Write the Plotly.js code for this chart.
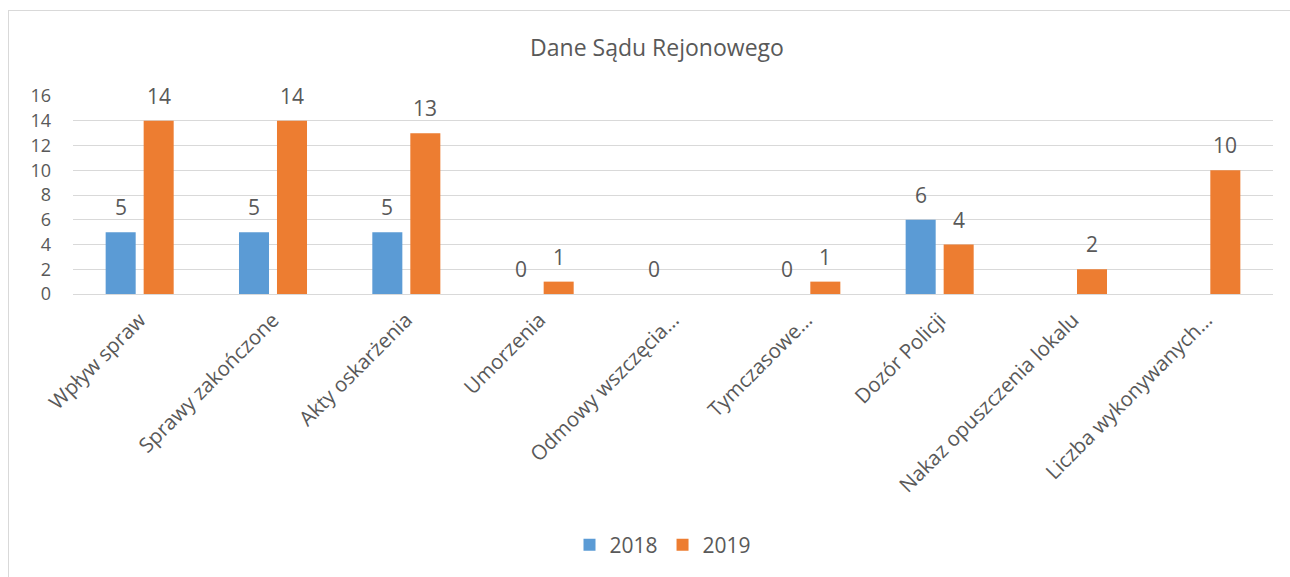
<!DOCTYPE html>
<html>
<head>
<meta charset="utf-8">
<script src="https://cdn.plot.ly/plotly-3.0.1.min.js"></script>
<style>
  html, body { margin: 0; padding: 0; background: #ffffff; }
  #frame { position: absolute; left: 8px; top: 10px; width: 1400px; height: 700px; border-left: 1.5px solid #d9d9d9; border-top: 1.5px solid #d9d9d9; pointer-events: none; }
  #chart { position: absolute; left: 0; top: 0; width: 1290px; height: 577px; }
</style>
</head>
<body>
<div id="chart"></div>
<div id="frame"></div>
<script>
const categories = [
  "Wpływ spraw",
  "Sprawy zakończone",
  "Akty oskarżenia",
  "Umorzenia",
  "Odmowy wszczęcia…",
  "Tymczasowe…",
  "Dozór Policji",
  "Nakaz opuszczenia lokalu",
  "Liczba wykonywanych…"
];
const values2018 = [5, 5, 5, 0, 0, 0, 6, null, null];
const values2019 = [14, 14, 13, 1, null, 1, 4, 2, 10];
const seriesNames = ["2018", "2019"];
const colors = ["#5B9BD5", "#ED7D31"];
const yTicks = [0, 2, 4, 6, 8, 10, 12, 14, 16];

const textColor = "#595959";
const fontFam = "'Open Sans', 'Noto Sans', sans-serif";

const traces = [values2018, values2019].map((vals, i) => ({
  type: "bar",
  name: seriesNames[i],
  x: categories,
  y: vals,
  marker: { color: colors[i], line: { width: 0 } },
  hoverinfo: "x+y+name"
}));

const annotations = [];
[values2018, values2019].forEach((vals, i) => {
  vals.forEach((v, j) => {
    if (v === null) return;
    annotations.push({
      x: categories[j], y: v, xref: "x", yref: "y",
      text: String(v), showarrow: false,
      xshift: i === 0 ? -19 : 19, yshift: 25,
      yanchor: "middle", xanchor: "center",
      font: { family: fontFam, size: 21, color: textColor }
    });
  });
});

const layout = {
  width: 1290, height: 577,
  margin: { l: 73, r: 17, t: 96, b: 280 },
  paper_bgcolor: "rgba(0,0,0,0)",
  plot_bgcolor: "#ffffff",
  title: {
    text: "Dane Sądu Rejonowego",
    x: (657 - 73) / 1200, xref: "paper", xanchor: "center",
    y: 1 - 48 / 577, yanchor: "middle",
    font: { family: fontFam, size: 23, color: textColor }
  },
  barmode: "group",
  bargap: 0.43,
  bargroupgap: 0.21,
  xaxis: {
    type: "category",
    tickangle: -45,
    tickfont: { family: fontFam, size: 20.5, color: textColor },
    showgrid: false,
    showline: false,
    ticks: "",
    ticklabelstandoff: 9,
    automargin: false
  },
  yaxis: {
    range: [0, 16],
    tickvals: yTicks,
    tickfont: { family: fontFam, size: 18, color: textColor },
    showgrid: true,
    gridcolor: "#d9d9d9",
    gridwidth: 1.3,
    zeroline: true,
    zerolinecolor: "#d9d9d9",
    zerolinewidth: 1.3,
    showline: false,
    ticks: "",
    ticklabelstandoff: 21,
    automargin: false,
    fixedrange: true
  },
  showlegend: true,
  legend: {
    orientation: "h",
    x: 0.5 - 10 / 1200, xanchor: "center",
    y: -255 / 201, yanchor: "middle",
    font: { family: fontFam, size: 21, color: textColor },
    itemwidth: 30,
    traceorder: "normal"
  },
  annotations: annotations
};

Plotly.newPlot("chart", traces, layout, { displayModeBar: false, responsive: false });
</script>
</body>
</html>
